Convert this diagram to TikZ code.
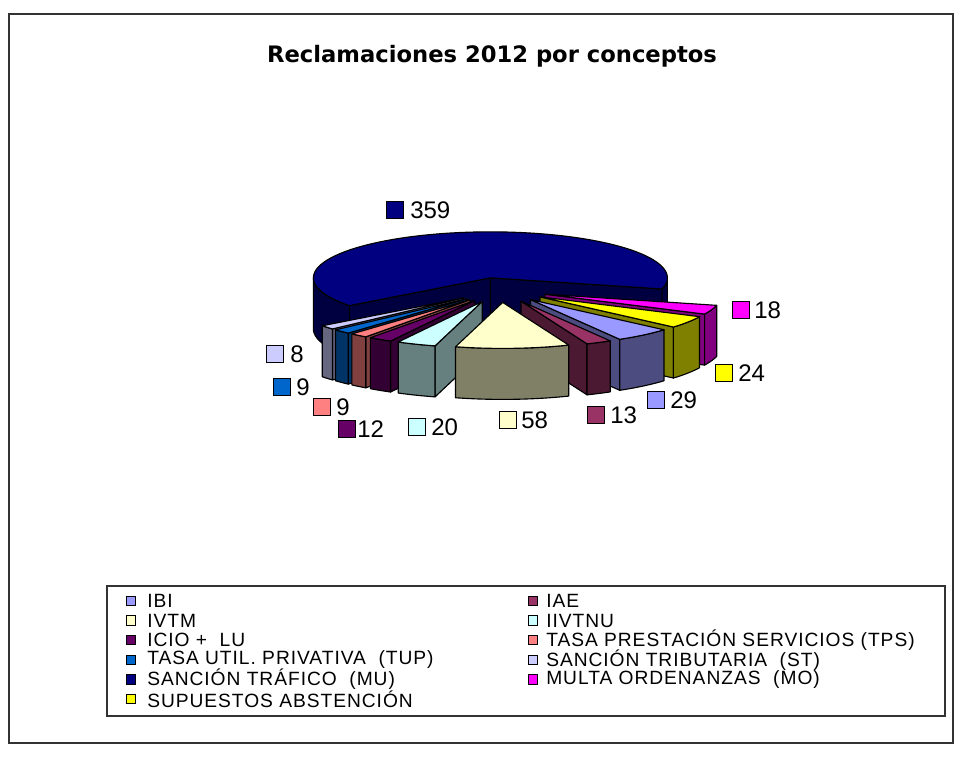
\documentclass[tikz,border=0pt]{standalone}
\usepackage{fontspec}
\setmainfont{Liberation Sans}
\newfontfamily\titlefont{DejaVu Sans}
\newfontfamily\legfont[LetterSpace=5]{Liberation Sans}
\definecolor{cIBI}{HTML}{9999FF}
\definecolor{cIAE}{HTML}{993366}
\definecolor{cIVTM}{HTML}{FFFFCC}
\definecolor{cIIV}{HTML}{CCFFFF}
\definecolor{cICIO}{HTML}{660066}
\definecolor{cTPS}{HTML}{FF8080}
\definecolor{cTUP}{HTML}{0066CC}
\definecolor{cST}{HTML}{CCCCFF}
\definecolor{cMU}{HTML}{000080}
\definecolor{cMO}{HTML}{FF00FF}
\definecolor{cSUP}{HTML}{FFFF00}
\definecolor{framegray}{HTML}{333333}
\def\PieCx{500}
\def\PieCy{290}
\def\PieRx{177}
\def\PieRy{46}
\def\PieE{0.27}
\def\PieH{51}
\tikzset{
  face/.style={fill=#1, draw=black, line width=0.85pt, line join=round},
  lblkey/.style={draw=black, line width=0.8pt, minimum size=12.5pt, inner sep=0pt, fill=#1},
  lbltext/.style={font=\fontsize{18}{18}\selectfont, anchor=west, inner sep=0pt},
  legkey/.style={draw=black, line width=0.7pt, minimum size=7pt, inner sep=0pt, fill=#1},
  legtext/.style={font=\legfont\fontsize{14.4}{14.4}\selectfont, anchor=west, inner sep=0pt},
}
% slice in the front half: #1 start angle, #2 end angle, #3 colour
\newcommand{\pieslice}[3]{%
  \pgfmathsetmacro{\sPh}{(#1+#2)/2}%
  \pgfmathsetmacro{\sAx}{\PieCx+\PieE*\PieRx*cos(\sPh)}%
  \pgfmathsetmacro{\sAy}{\PieCy+\PieE*\PieRy*sin(\sPh)}%
  \pgfmathtruncatemacro{\sVa}{and(#1>90,#1<270)}%
  \pgfmathtruncatemacro{\sVb}{cos(#2)>0}%
  \ifnum\sVa=1
    \path[face=#3!50!black] (\sAx,\sAy) -- ({\sAx+\PieRx*cos(#1)},{\sAy+\PieRy*sin(#1)})
      -- ({\sAx+\PieRx*cos(#1)},{\sAy+\PieRy*sin(#1)+\PieH}) -- ({\sAx},{\sAy+\PieH}) -- cycle;
  \fi
  \ifnum\sVb=1
    \path[face=#3!50!black] (\sAx,\sAy) -- ({\sAx+\PieRx*cos(#2)},{\sAy+\PieRy*sin(#2)})
      -- ({\sAx+\PieRx*cos(#2)},{\sAy+\PieRy*sin(#2)+\PieH}) -- ({\sAx},{\sAy+\PieH}) -- cycle;
  \fi
  \path[face=#3!50!black] plot[domain=#1:#2, samples=40, variable=\t] ({\sAx+\PieRx*cos(\t)},{\sAy+\PieRy*sin(\t)})
    -- plot[domain=#2:#1, samples=40, variable=\t] ({\sAx+\PieRx*cos(\t)},{\sAy+\PieRy*sin(\t)+\PieH}) -- cycle;
  \path[face=#3] (\sAx,\sAy) -- plot[domain=#1:#2, samples=40, variable=\t] ({\sAx+\PieRx*cos(\t)},{\sAy+\PieRy*sin(\t)}) -- cycle;
}
\begin{document}
\begin{tikzpicture}[x=0.75pt,y=-0.75pt]
\useasboundingbox (0,0) rectangle (968,776);
\fill[white] (0,0) rectangle (968,776);
% chart frame
\draw[framegray, line width=1.2pt] (9,14) rectangle (953,743);
% title
\node[font=\titlefont\bfseries\fontsize{17}{18}\selectfont, anchor=base, inner sep=0pt] (title) at (492,62) {Reclamaciones 2012 por conceptos};
% ---- big slice (MU) ----
\pgfmathsetmacro{\sPh}{(142.8+374)/2}
\pgfmathsetmacro{\sAx}{\PieCx+\PieE*\PieRx*cos(\sPh)}
\pgfmathsetmacro{\sAy}{\PieCy+\PieE*\PieRy*sin(\sPh)}
\path[face=cMU!50!black] (\sAx,\sAy) -- ({\sAx+\PieRx*cos(142.8)},{\sAy+\PieRy*sin(142.8)})
  -- ({\sAx+\PieRx*cos(142.8)},{\sAy+\PieRy*sin(142.8)+\PieH}) -- ({\sAx},{\sAy+\PieH}) -- cycle;
\path[face=cMU!50!black] (\sAx,\sAy) -- ({\sAx+\PieRx*cos(14)},{\sAy+\PieRy*sin(14)})
  -- ({\sAx+\PieRx*cos(14)},{\sAy+\PieRy*sin(14)+\PieH}) -- ({\sAx},{\sAy+\PieH}) -- cycle;
\path[face=cMU!50!black] plot[domain=142.8:180, samples=30, variable=\t] ({\sAx+\PieRx*cos(\t)},{\sAy+\PieRy*sin(\t)})
  -- plot[domain=180:142.8, samples=30, variable=\t] ({\sAx+\PieRx*cos(\t)},{\sAy+\PieRy*sin(\t)+\PieH}) -- cycle;
\path[face=cMU!50!black] plot[domain=0:14, samples=20, variable=\t] ({\sAx+\PieRx*cos(\t)},{\sAy+\PieRy*sin(\t)})
  -- plot[domain=14:0, samples=20, variable=\t] ({\sAx+\PieRx*cos(\t)},{\sAy+\PieRy*sin(\t)+\PieH}) -- cycle;
\path[face=cMU] (\sAx,\sAy) -- plot[domain=142.8:374, samples=120, variable=\t] ({\sAx+\PieRx*cos(\t)},{\sAy+\PieRy*sin(\t)}) -- cycle;
% ---- left slices, far to near ----
\pieslice{137.648}{142.8}{cST}
\pieslice{131.852}{137.648}{cTUP}
\pieslice{126.056}{131.852}{cTPS}
\pieslice{118.328}{126.056}{cICIO}
\pieslice{105.448}{118.328}{cIIV}
% ---- right slices, far to near ----
\pieslice{14}{25.592}{cMO}
\pieslice{25.592}{41.048}{cSUP}
\pieslice{41.048}{59.724}{cIBI}
\pieslice{59.724}{68.096}{cIAE}
% ---- front slice ----
\pieslice{68.096}{105.448}{cIVTM}
% ---- data labels ----
\node[lblkey=cMU] (kMU) at (395,210) {};   \node[lbltext] (tMU) at (410,210) {359};
\node[lblkey=cMO] (kMO) at (741,310) {};   \node[lbltext] (tMO) at (754,310) {18};
\node[lblkey=cSUP] (kSUP) at (724,373) {}; \node[lbltext] (tSUP) at (738,373) {24};
\node[lblkey=cIBI] (kIBI) at (656,400) {}; \node[lbltext] (tIBI) at (670,400) {29};
\node[lblkey=cIAE] (kIAE) at (596,415) {}; \node[lbltext] (tIAE) at (610,415) {13};
\node[lblkey=cIVTM] (kIVTM) at (508,420) {}; \node[lbltext] (tIVTM) at (521,420) {58};
\node[lblkey=cIIV] (kIIV) at (417,427) {}; \node[lbltext] (tIIV) at (431,427) {20};
\node[lblkey=cICIO] (kICIO) at (347,429) {}; \node[lbltext] (tICIO) at (357,429) {12};
\node[lblkey=cTPS] (kTPS) at (322,407) {}; \node[lbltext] (tTPS) at (336,407) {9};
\node[lblkey=cTUP] (kTUP) at (282,387) {}; \node[lbltext] (tTUP) at (296,387) {9};
\node[lblkey=cST] (kST) at (275,354) {};   \node[lbltext] (tST) at (290,354) {8};
% ---- legend ----
\draw[framegray, line width=1.1pt, fill=white] (107,586) rectangle (945,716);
\foreach \i/\c/\t in {0/cIBI/IBI, 1/cIVTM/IVTM, 2/cICIO/{ICIO +\ \ LU}, 3/cTUP/{TASA UTIL. PRIVATIVA\ \ (TUP)}, 4/cMU/{SANCIÓN TRÁFICO\ \ (MU)}, 5/cSUP/{SUPUESTOS ABSTENCIÓN}}{
  \node[legkey=\c] (lk\i) at (131,{601+19.6*\i}) {};
  \node[legtext] (lt\i) at (147,{601+19.6*\i}) {\t};
}
\foreach \i/\c/\t in {0/cIAE/IAE, 1/cIIV/IIVTNU, 2/cTPS/{TASA PRESTACIÓN SERVICIOS (TPS)}, 3/cST/{SANCIÓN TRIBUTARIA\ \ (ST)}, 4/cMO/{MULTA ORDENANZAS\ \ (MO)}}{
  \node[legkey=\c] (rk\i) at (533,{601+19.6*\i}) {};
  \node[legtext] (rt\i) at (546,{601+19.6*\i}) {\t};
}
\end{tikzpicture}
\end{document}
